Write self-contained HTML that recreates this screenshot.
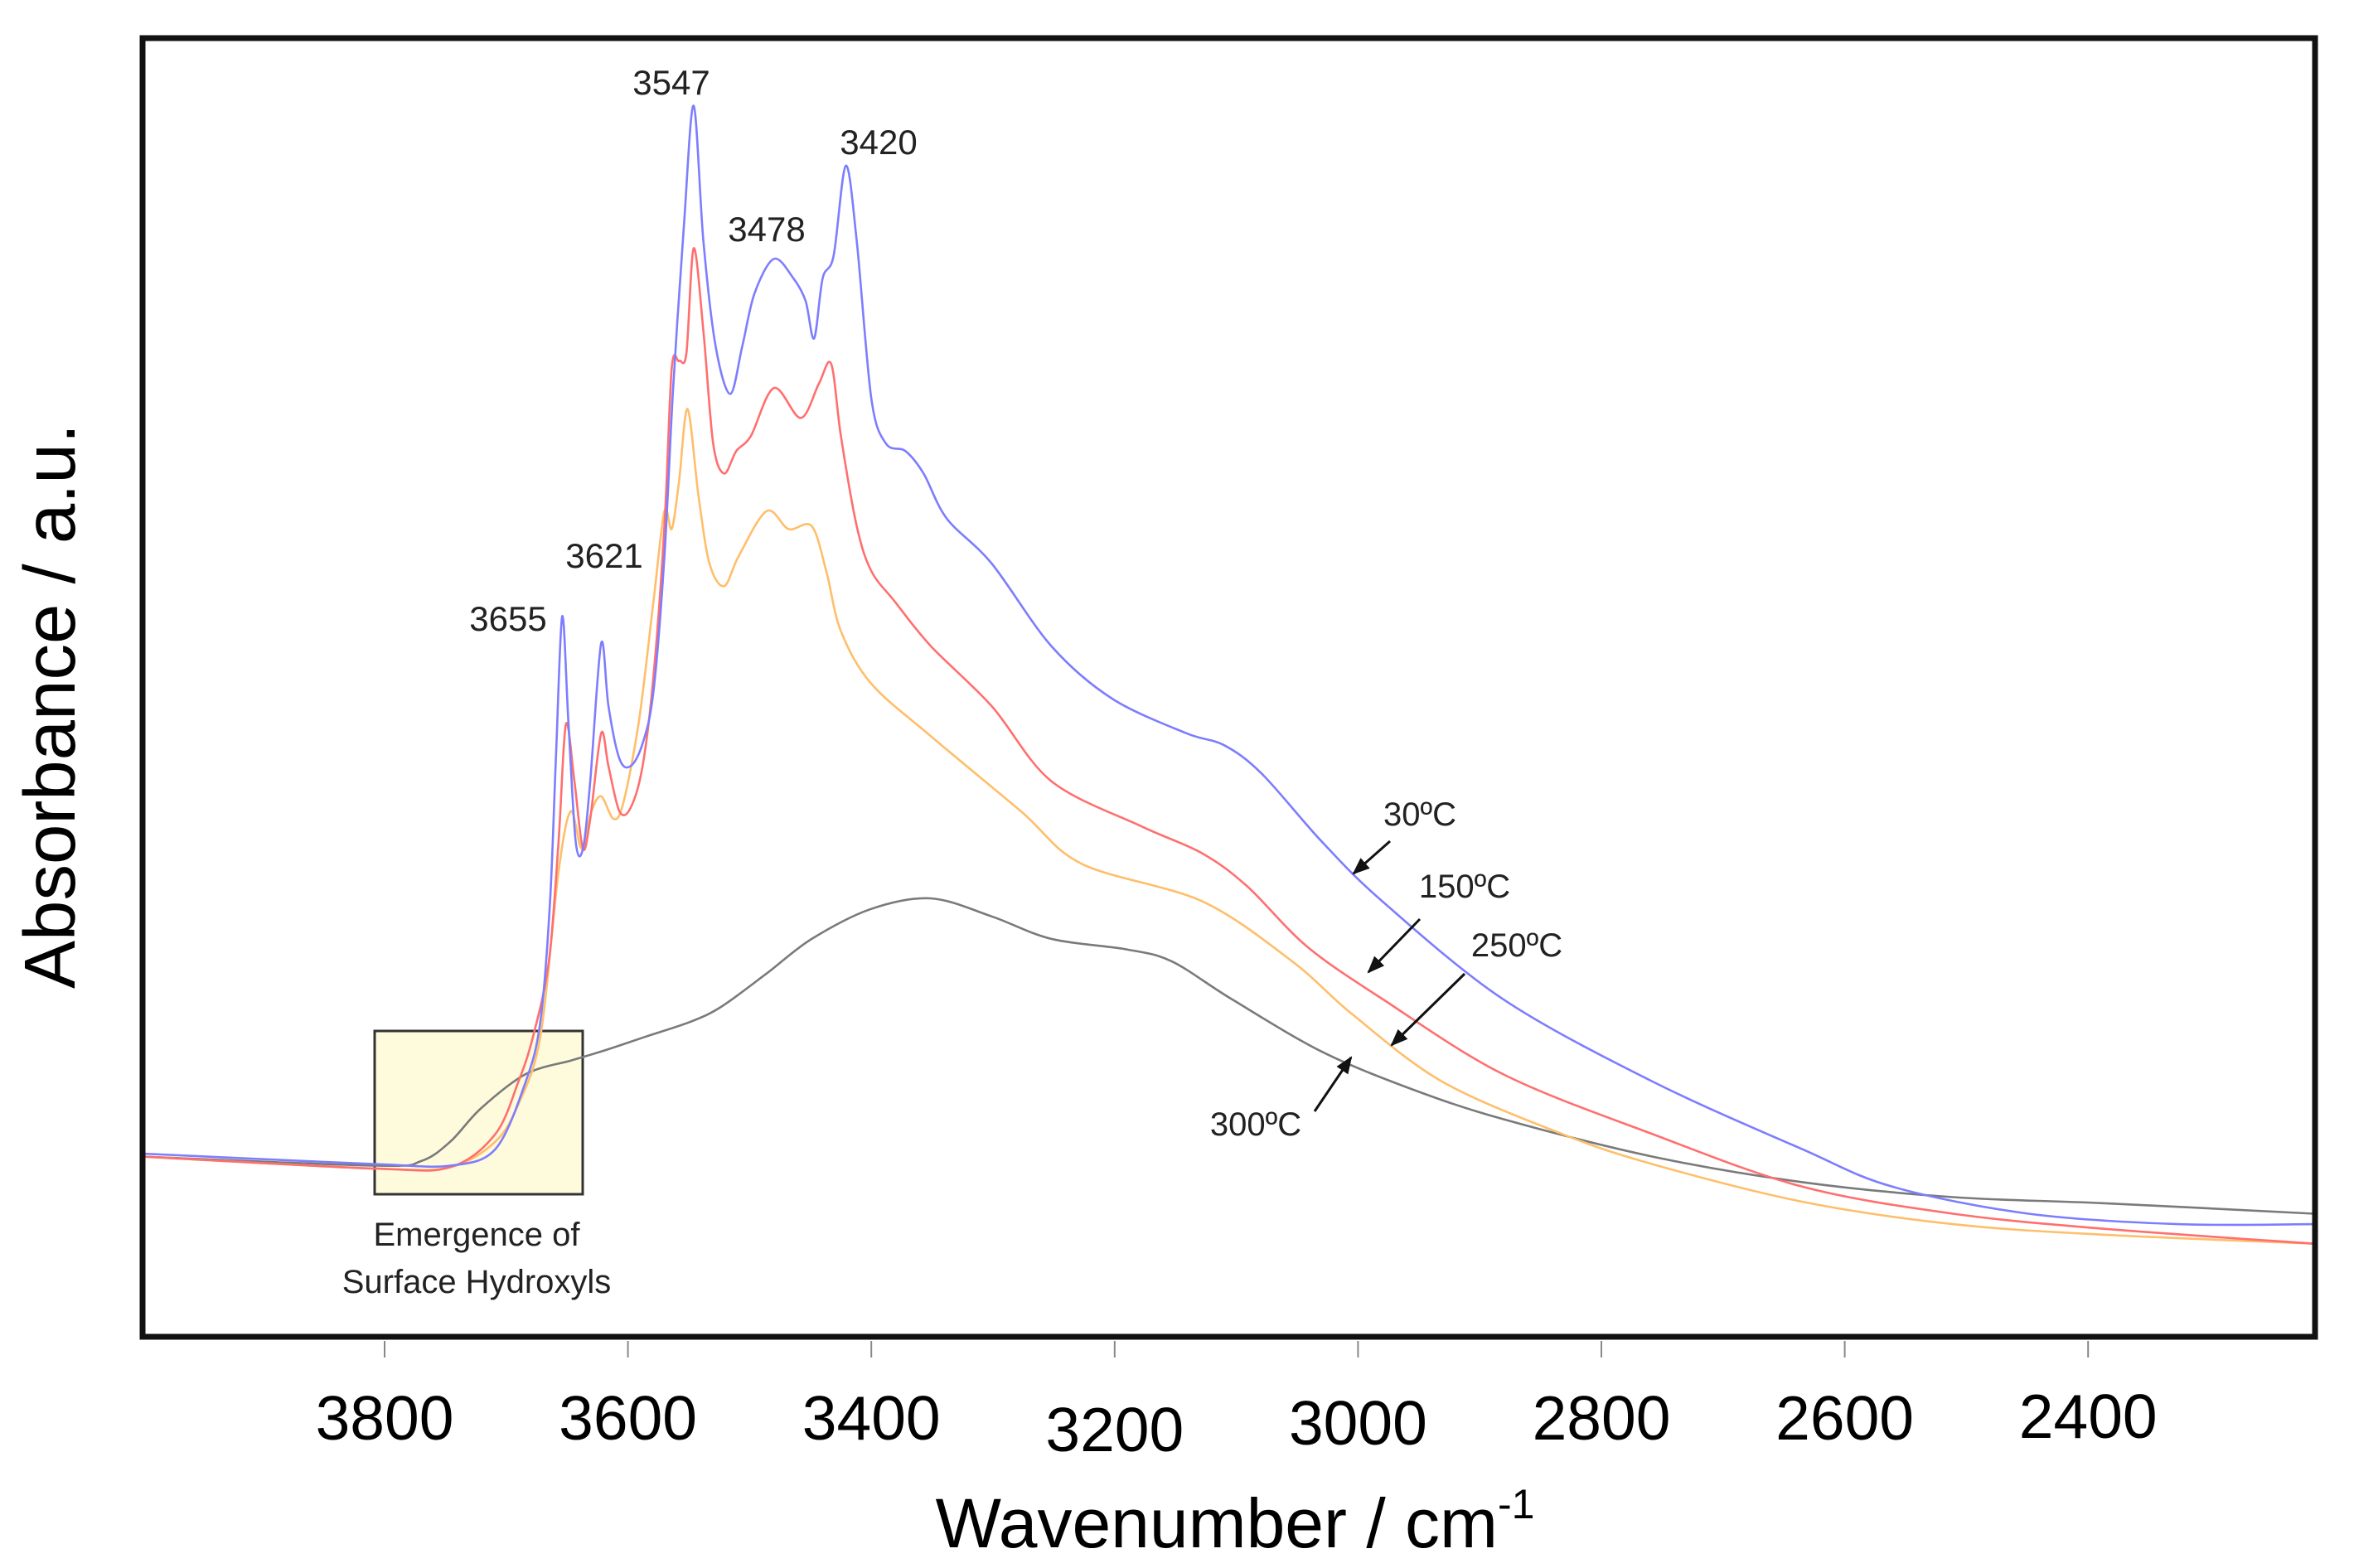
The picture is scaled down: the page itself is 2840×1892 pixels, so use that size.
<!DOCTYPE html>
<html><head><meta charset="utf-8">
<style>
html,body{margin:0;padding:0;background:#fff;}
svg{display:block;font-family:"Liberation Sans",Arial,sans-serif;}
</style></head>
<body>
<svg id="chart" width="2840" height="1892" viewBox="0 0 2840 1892" xmlns="http://www.w3.org/2000/svg">
<defs>
<marker id="ah" viewBox="0 0 10 10" refX="9" refY="5" markerWidth="7" markerHeight="7" orient="auto"><path d="M0,1 L10,5 L0,9 z" fill="#111"/></marker>
</defs>
<rect x="0" y="0" width="2840" height="1892" fill="#fff"/>
<rect x="452" y="1244" width="251" height="197" fill="#fdfbdc" stroke="#333" stroke-width="3"/>
<g id="series"></g>
<g id="ticks"></g>
<rect x="172" y="46" width="2621" height="1567" fill="none" stroke="#111" stroke-width="7"/>
<g font-size="42" fill="#222" text-anchor="middle">
<text x="810" y="114">3547</text>
<text x="1060" y="186">3420</text>
<text x="925" y="291">3478</text>
<text x="729" y="685">3621</text>
<text x="613" y="761">3655</text>
</g>
<g font-size="40" fill="#222" text-anchor="middle">
<text x="1713" y="996">30ºC</text>
<text x="1767" y="1083">150ºC</text>
<text x="1830" y="1154">250ºC</text>
<text x="1515" y="1370">300ºC</text>
</g>
<g stroke="#111" stroke-width="3" marker-end="url(#ah)">
<line x1="1677" y1="1015" x2="1633" y2="1054"/>
<line x1="1713" y1="1109" x2="1651" y2="1173"/>
<line x1="1767" y1="1175" x2="1679" y2="1261"/>
<line x1="1586" y1="1341" x2="1630" y2="1276"/>
</g>
<g font-size="40" fill="#222" text-anchor="middle">
<text x="575" y="1503">Emergence of</text>
<text x="575" y="1560">Surface Hydroxyls</text>
</g>
<g id="ticklabels" font-size="75" fill="#000" text-anchor="middle"></g>
<text x="1490" y="1867" font-size="84" text-anchor="middle" fill="#000">Wavenumber / cm<tspan font-size="50" dy="-35">-1</tspan></text>
<text x="0" y="0" font-size="87" text-anchor="middle" fill="#000" transform="translate(90,852) rotate(-90)">Absorbance / a.u.</text>
</svg>
<script>
const tickValues=[3800,3600,3400,3200,3000,2800,2600,2400];
const tickLabels=["3800","3600","3400","3200","3000","2800","2600","2400"];
const wnBlue=[3999,3807,3746,3709,3684,3672,3664,3659,3654,3649,3643,3637,3631,3622,3616,3607,3598,3588,3579,3570,3563,3554,3546,3538,3528,3516,3506,3496,3480,3464,3454,3447,3440,3431,3421,3412,3400,3388,3372,3357,3338,3301,3252,3202,3141,3110,3079,3030,2980,2881,2758,2635,2561,2449,2326,2214];
const absBlue=[122,115,114,125,170,210,290,390,480,410,330,325,370,462,420,385,380,395,430,520,630,740,820,730,660,628,660,695,718,705,690,665,705,720,780,730,625,595,590,575,545,515,460,425,402,394,375,330,290,225,170,125,100,82,75,75];
const wnRed=[3999,3807,3746,3709,3690,3678,3665,3657,3651,3644,3637,3631,3622,3616,3607,3598,3588,3579,3570,3564,3558,3552,3546,3538,3530,3521,3511,3499,3480,3458,3443,3433,3425,3412,3400,3381,3351,3301,3252,3178,3128,3091,3042,2980,2881,2758,2635,2511,2388,2214];
const absRed=[120,112,113,135,170,200,250,330,408,370,325,345,402,380,350,352,380,440,540,645,650,655,725,670,595,575,590,600,632,612,635,648,600,540,510,490,460,420,370,340,322,300,260,225,175,135,100,82,72,62];
const wnOrange=[3999,3807,3746,3709,3690,3672,3657,3647,3638,3630,3622,3612,3604,3591,3579,3570,3564,3558,3551,3542,3533,3521,3509,3486,3468,3449,3437,3425,3400,3351,3277,3227,3128,3054,3005,2931,2832,2758,2635,2511,2388,2214];
const absOrange=[120,112,113,130,155,200,310,350,325,350,360,345,355,410,490,550,538,570,618,560,515,500,520,550,538,540,510,470,435,400,350,315,290,250,215,170,135,115,90,75,68,62];
const wnGray=[3999,3807,3770,3746,3721,3684,3647,3622,3585,3548,3523,3486,3449,3400,3351,3301,3252,3190,3153,3104,3030,2956,2881,2758,2635,2511,2388,2214];
const absGray=[120,114,117,130,152,175,184,190,200,210,220,242,265,285,292,280,265,258,250,225,190,165,145,120,103,93,89,82];

const X0=464, PXW=293.6/200, Y0=1613, PXA=1567/865;
function xScale(wn){return X0+(3800-wn)*PXW;}
function yScale(a){return Y0-a*PXA;}
const NS="http://www.w3.org/2000/svg";
function smoothPath(wn,ab){
  const p=wn.map((w,i)=>[xScale(w),yScale(ab[i])]);
  let d="M"+p[0][0].toFixed(1)+","+p[0][1].toFixed(1);
  for(let i=0;i<p.length-1;i++){
    const p0=p[Math.max(0,i-1)],p1=p[i],p2=p[i+1],p3=p[Math.min(p.length-1,i+2)];
    const t=0.16;
    const c1=[p1[0]+(p2[0]-p0[0])*t,p1[1]+(p2[1]-p0[1])*t];
    const c2=[p2[0]-(p3[0]-p1[0])*t,p2[1]-(p3[1]-p1[1])*t];
    d+=" C"+c1[0].toFixed(1)+","+c1[1].toFixed(1)+" "+c2[0].toFixed(1)+","+c2[1].toFixed(1)+" "+p2[0].toFixed(1)+","+p2[1].toFixed(1);
  }
  return d;
}
const sg=document.getElementById("series");
function addSeries(wn,ab,color,name){
  const el=document.createElementNS(NS,"path");
  el.setAttribute("d",smoothPath(wn,ab));
  el.setAttribute("fill","none");
  el.setAttribute("stroke",color);
  el.setAttribute("stroke-width","2.6");
  
  
  sg.appendChild(el);
}
addSeries(wnGray,absGray,"#7a7a7a","series-300c");
addSeries(wnOrange,absOrange,"#ffbe6a","series-250c");
addSeries(wnRed,absRed,"#ff6f6f","series-150c");
addSeries(wnBlue,absBlue,"#7d7dff","series-30c");

const tg=document.getElementById("ticks"), tl=document.getElementById("ticklabels");
const labelY=[1737,1737,1737,1751,1743,1737,1737,1735];
tickValues.forEach((v,i)=>{
  const x=xScale(v);
  const ln=document.createElementNS(NS,"line");
  ln.setAttribute("x1",x);ln.setAttribute("x2",x);
  ln.setAttribute("y1",1618);ln.setAttribute("y2",1638);
  ln.setAttribute("stroke","#888");ln.setAttribute("stroke-width","2");
  
  
  tg.appendChild(ln);
  const t=document.createElementNS(NS,"text");
  t.setAttribute("x",x);t.setAttribute("y",labelY[i]);
  t.textContent=tickLabels[i];
  
  
  tl.appendChild(t);
});
</script>
</body></html>
